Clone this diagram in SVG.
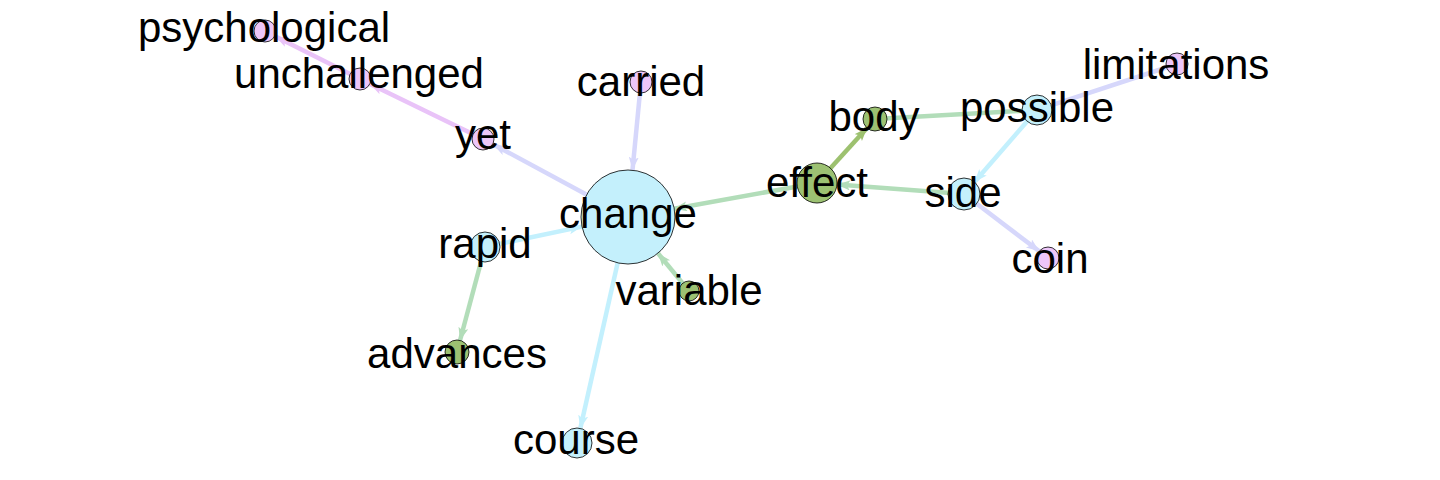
<svg xmlns="http://www.w3.org/2000/svg" width="1440" height="480" viewBox="0 0 1440 480">
<defs>
<style>
.bg{fill:#ffffff}
.e{fill:none;stroke-width:4.5;stroke-linecap:butt}
.pk{stroke:#E9C3F8}
.lv{stroke:#D6D7FB}
.lg{stroke:#B2DDB9}
.dg{stroke:#9DC16F}
.lb{stroke:#C3F0FD}
.n{stroke:#000000;stroke-width:0.8}
.blue{fill:#C4F0FC}
.green{fill:#9CC172}
.pink{fill:#EDC6F9}
text{font-family:"Liberation Sans",Arial,sans-serif;font-size:42px;fill:#000000;text-anchor:middle}
</style>
<marker id="a-pk" markerWidth="14" markerHeight="12" refX="13" refY="5" orient="auto" markerUnits="userSpaceOnUse"><path d="M0,0 L13,5 L0,10 L3,5 z" fill="#E9C3F8"/></marker>
<marker id="a-lv" markerWidth="14" markerHeight="12" refX="13" refY="5" orient="auto" markerUnits="userSpaceOnUse"><path d="M0,0 L13,5 L0,10 L3,5 z" fill="#D6D7FB"/></marker>
<marker id="a-lg" markerWidth="14" markerHeight="12" refX="13" refY="5" orient="auto" markerUnits="userSpaceOnUse"><path d="M0,0 L13,5 L0,10 L3,5 z" fill="#B2DDB9"/></marker>
<marker id="a-dg" markerWidth="14" markerHeight="12" refX="13" refY="5" orient="auto" markerUnits="userSpaceOnUse"><path d="M0,0 L13,5 L0,10 L3,5 z" fill="#9DC16F"/></marker>
<marker id="a-lb" markerWidth="14" markerHeight="12" refX="13" refY="5" orient="auto" markerUnits="userSpaceOnUse"><path d="M0,0 L13,5 L0,10 L3,5 z" fill="#C3F0FD"/></marker>
</defs>
<rect class="bg" x="0" y="0" width="1440" height="480"/>
<g id="connectors">
<line class="e pk" x1="360" y1="79" x2="275.5" y2="36.5" marker-end="url(#a-pk)"/>
<line class="e pk" x1="483" y1="139" x2="370" y2="84" marker-end="url(#a-pk)"/>
<line class="e lv" x1="628" y1="217" x2="493.5" y2="144.5" marker-end="url(#a-lv)"/>
<line class="e lv" x1="641" y1="82" x2="632.5" y2="170" marker-end="url(#a-lv)"/>
<line class="e lg" x1="817" y1="183" x2="674" y2="208.7" marker-end="url(#a-lg)"/>
<line class="e dg" x1="817" y1="183" x2="867" y2="128" marker-end="url(#a-dg)"/>
<line class="e lg" x1="875" y1="119" x2="1022" y2="110.8"/>
<line class="e lg" x1="964" y1="194" x2="837" y2="184.5" marker-end="url(#a-lg)"/>
<line class="e lb" x1="1037" y1="110" x2="974.5" y2="182" marker-end="url(#a-lb)"/>
<line class="e lv" x1="1177" y1="64" x2="1051" y2="105.3"/>
<line class="e lv" x1="964" y1="194" x2="1039.3" y2="251.3" marker-end="url(#a-lv)"/>
<line class="e lb" x1="485" y1="247" x2="582" y2="226.6" marker-end="url(#a-lb)"/>
<line class="e lg" x1="485" y1="247" x2="460" y2="340.5" marker-end="url(#a-lg)"/>
<line class="e lg" x1="689" y1="291" x2="658" y2="253.3" marker-end="url(#a-lg)"/>
<line class="e lb" x1="628" y1="217" x2="580.3" y2="428.4" marker-end="url(#a-lb)"/>
</g>
<g id="node-change"><circle class="n blue" cx="628" cy="217" r="47"/><text x="628" y="228">change</text></g>
<g id="node-psychological"><circle class="n pink" cx="265" cy="31" r="11"/><text x="264" y="42">psychological</text></g>
<g id="node-unchallenged"><circle class="n pink" cx="360" cy="79" r="11"/><text x="359" y="88">unchallenged</text></g>
<g id="node-yet"><circle class="n pink" cx="483" cy="139" r="11"/><text x="483" y="149">yet</text></g>
<g id="node-carried"><circle class="n pink" cx="641" cy="82" r="11"/><text x="641" y="96">carried</text></g>
<g id="node-effect"><circle class="n green" cx="817" cy="183" r="20"/><text x="817" y="197">effect</text></g>
<g id="node-body"><circle class="n green" cx="875" cy="119" r="12"/><text x="874" y="131">body</text></g>
<g id="node-possible"><circle class="n blue" cx="1037" cy="110" r="15"/><text x="1037" y="122">possible</text></g>
<g id="node-limitations"><circle class="n pink" cx="1177" cy="64" r="11"/><text x="1176" y="79">limitations</text></g>
<g id="node-side"><circle class="n blue" cx="964" cy="194" r="16"/><text x="963" y="207">side</text></g>
<g id="node-coin"><circle class="n pink" cx="1048" cy="258" r="11"/><text x="1050" y="273">coin</text></g>
<g id="node-rapid"><circle class="n blue" cx="485" cy="247" r="15"/><text x="485" y="258">rapid</text></g>
<g id="node-advances"><circle class="n green" cx="457" cy="352" r="12"/><text x="457" y="368">advances</text></g>
<g id="node-variable"><circle class="n green" cx="689" cy="291" r="10"/><text x="689" y="305">variable</text></g>
<g id="node-course"><circle class="n blue" cx="577" cy="443" r="15"/><text x="576" y="454">course</text></g>
</svg>
